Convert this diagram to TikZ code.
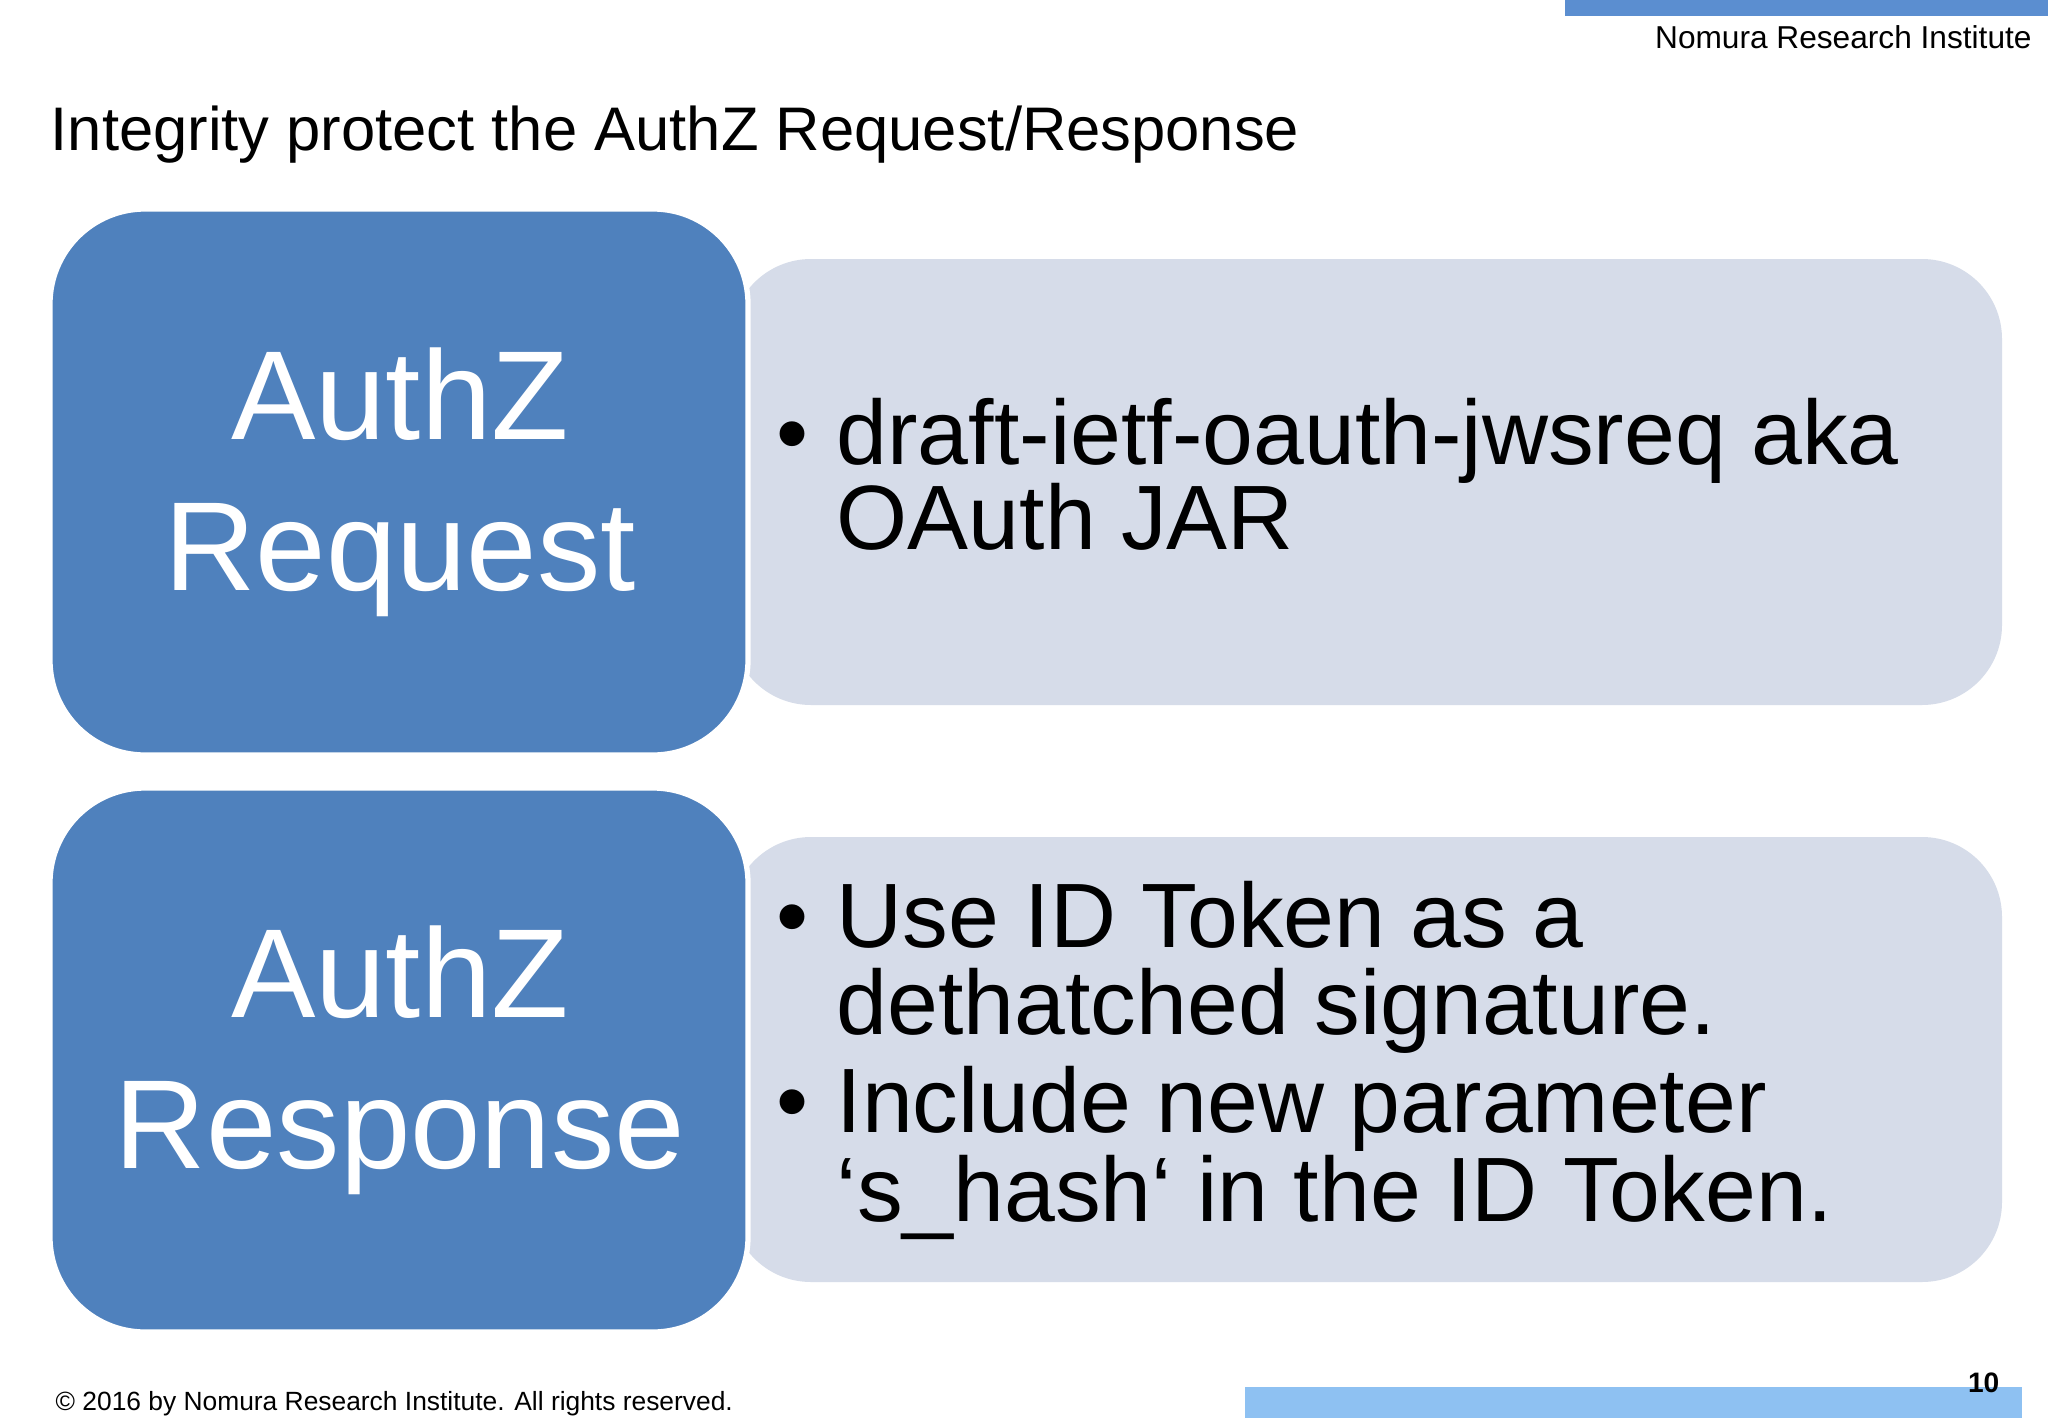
\documentclass[tikz,border=0pt]{standalone}
\usepackage{fontspec}
\setmainfont{Liberation Sans}
\definecolor{blueA}{HTML}{4F81BD}
\definecolor{lightA}{HTML}{D6DCE9}
\definecolor{barA}{HTML}{5B8ED0}
\definecolor{barB}{HTML}{8EC1F2}
\begin{document}
\begin{tikzpicture}[x=0.01cm,y=-0.01cm,
  lightbox/.style={fill=lightA,rounded corners=0.8cm},
  bluebox/.style={fill=blueA,draw=white,line width=1.5pt,rounded corners=0.95cm},
  big/.style={text=white,font=\fontsize{36}{43}\selectfont,align=center},
  item/.style={anchor=base west,font=\fontsize{26}{31}\selectfont},
  bul/.style={anchor=base west,font=\fontsize{26}{31}\selectfont}]
\fill[white] (0,0) rectangle (2048,1418);
\fill[barA] (1565,0) rectangle (2048,16);
\node[anchor=base east,font=\fontsize{9}{11}\selectfont] (org) at (2044,48) {Nomura Research Institute};
\node[anchor=base west,font=\fontsize{17.5}{21}\selectfont,inner sep=0] (title) at (50,150) {Integrity protect the AuthZ Request/Response};
% top
\fill[lightbox] (731,259) rectangle (2002,705);
\filldraw[bluebox] (50,209) rectangle (748,755);
\node[big] (req) at (400,482) {AuthZ\\Request};
\node[bul,inner sep=0] (b1) at (776,464) {•};
\node[item,inner sep=0] (t1) at (836,464) {draft-ietf-oauth-jwsreq aka};
\node[item,inner sep=0] (t2) at (836,549) {OAuth JAR};
% bottom
\fill[lightbox] (731,837) rectangle (2002,1282);
\filldraw[bluebox] (50,788) rectangle (748,1332);
\node[big] (resp) at (400,1060) {AuthZ\\Response};
\node[bul,inner sep=0] (b2) at (776,947) {•};
\node[item,inner sep=0] (t3) at (836,947) {Use ID Token as a};
\node[item,inner sep=0] (t4) at (836,1034) {dethatched signature.};
\node[bul,inner sep=0] (b3) at (776,1132) {•};
\node[item,inner sep=0] (t5) at (836,1132) {Include new parameter};
\node[item,inner sep=0] (t6) at (836,1221) {`s\_hash` in the ID Token.};
% footer
\fill[barB] (1245,1387) rectangle (2022,1418);
\node[anchor=base west,font=\fontsize{7.5}{9}\selectfont,inner sep=0] (copy) at (55,1410) {© 2016 by Nomura Research Institute. All rights reserved.};
\node[anchor=base east,font=\bfseries\fontsize{8}{10}\selectfont,inner sep=0] (num) at (2000,1392) {10};
\end{tikzpicture}
\end{document}
